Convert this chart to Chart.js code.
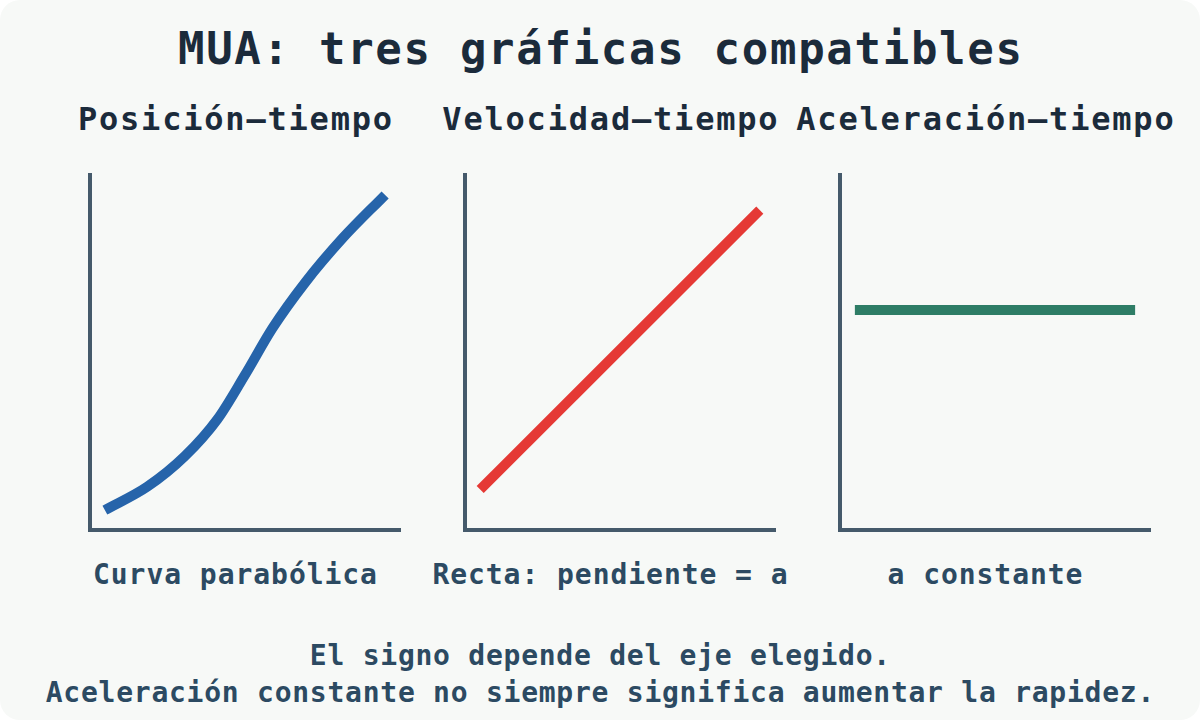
<!DOCTYPE html>
<html>
<head>
<meta charset="utf-8">
<script src="https://cdn.jsdelivr.net/npm/chart.js@4/dist/chart.umd.min.js"></script>
<style>
  html, body { margin: 0; padding: 0; background: #ffffff; }
  #card {
    position: absolute; left: 0; top: 0; width: 1200px; height: 720px;
    background: #f7f9f7; border-radius: 20px; overflow: hidden;
    font-family: "DejaVu Sans Mono", monospace; font-weight: bold;
  }
  .txt { position: absolute; white-space: nowrap; line-height: 1; transform: translateX(-50%); }
  canvas.panel { position: absolute; }
</style>
</head>
<body>
<div id="card"></div>
<script>
// ---- DATA ----
const mainTitle = "MUA: tres gráficas compatibles";
const panelTitles = ["Posición–tiempo", "Velocidad–tiempo", "Aceleración–tiempo"];
const panelLabels = ["Curva parabólica", "Recta: pendiente = a", "a constante"];
const footerLines = ["El signo depende del eje elegido.", "Aceleración constante no siempre significa aumentar la rapidez."];

// Posición–tiempo (tiempo, posición)
const posTime  = [0.48, 1.85, 3.06, 4.11, 5.00, 5.89, 6.94, 8.15, 9.52];
const posValue = [0.56, 1.22, 2.08, 3.12, 4.37, 5.69, 6.97, 8.22, 9.44];
// Velocidad–tiempo
const velTime  = [0.49, 9.51];
const velValue = [1.14, 9.01];
// Aceleración–tiempo
const accTime  = [0.48, 9.52];
const accValue = [6.2, 6.2];

const seriesColors = ["#2664aa", "#e53935", "#2e7d66"];

// ---- LAYOUT ----
const card = document.getElementById('card');
function addText(str, cx, baseline, size, color, ls) {
  const d = document.createElement('div');
  d.className = 'txt';
  d.textContent = str;
  d.style.fontSize = size + 'px';
  d.style.color = color;
  d.style.letterSpacing = ls + 'px';
  d.style.left = (cx + ls / 2) + 'px';
  d.style.top = (baseline - 0.846 * size) + 'px';
  card.appendChild(d);
}
addText(mainTitle, 600, 64, 44, "#1b2b3b", 1.7);
const centers = [235, 610, 985];
panelTitles.forEach((t, i) => addText(t, centers[i], 130, 32, "#1b2b3b", 1.8));
panelLabels.forEach((t, i) => addText(t, centers[i], 585, 28, "#2c4a62", 0.95));
addText(footerLines[0], 600, 666, 28, "#2c4a62", 0.75);
addText(footerLines[1], 600, 703, 28, "#2c4a62", 0.75);

const panelLefts = [90, 465, 840];
const seriesX = [posTime, velTime, accTime];
const seriesY = [posValue, velValue, accValue];

function axisOpts() {
  return {
    type: 'linear', min: 0, max: 10,
    ticks: { display: false },
    grid: { display: true, drawOnChartArea: false, drawTicks: false, color: 'rgba(0,0,0,0)' },
    border: { display: true, color: '#455a6b', width: 4 }
  };
}

panelLefts.forEach((left, i) => {
  const c = document.createElement('canvas');
  c.className = 'panel';
  c.width = 350; c.height = 400;
  c.style.width = '350px'; c.style.height = '400px';
  c.style.left = (left - 20) + 'px';
  c.style.top = '155px';
  card.appendChild(c);
  const pts = seriesX[i].map((x, k) => ({ x: x, y: seriesY[i][k] }));
  new Chart(c, {
    type: 'line',
    data: {
      datasets: [{
        data: pts,
        borderColor: seriesColors[i],
        borderWidth: 10,
        borderCapStyle: 'butt',
        pointRadius: 0,
        fill: false,
        cubicInterpolationMode: i === 0 ? 'monotone' : 'default',
        tension: i === 0 ? 0.4 : 0
      }]
    },
    options: {
      responsive: false,
      animation: false,
      devicePixelRatio: 1,
      layout: { padding: { left: 20, right: 20, top: 20, bottom: 25 } },
      plugins: { legend: { display: false }, tooltip: { enabled: false }, title: { display: false } },
      scales: { x: axisOpts(), y: axisOpts() }
    }
  });
});
</script>
</body>
</html>
